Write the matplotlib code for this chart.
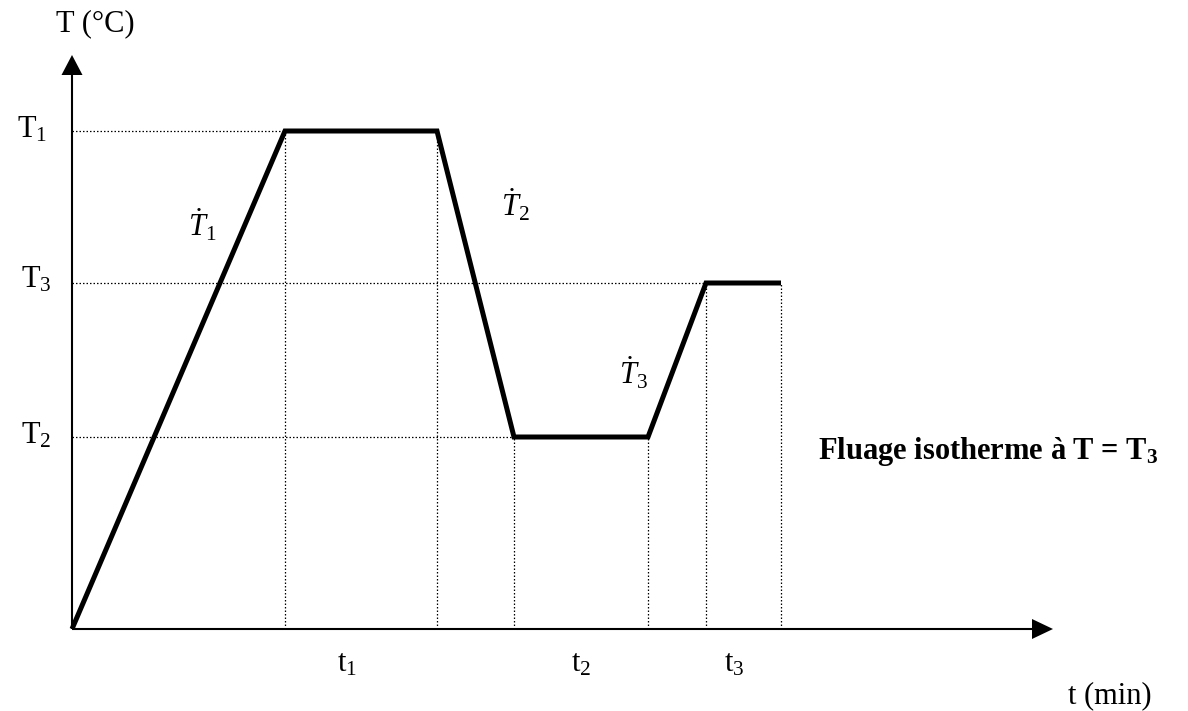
import matplotlib
matplotlib.use("Agg")
import matplotlib.pyplot as plt

plt.rcParams['font.family'] = ['Liberation Serif', 'DejaVu Serif']
plt.rcParams['mathtext.fontset'] = 'custom'
plt.rcParams['mathtext.rm'] = 'Liberation Serif'
plt.rcParams['mathtext.it'] = 'Liberation Serif:italic'
plt.rcParams['mathtext.bf'] = 'Liberation Serif:bold'

# Thermal cycle: heating, hold at T1, cooling, hold at T2, heating, creep at T3
times = [0.0, 21.3, 36.5, 44.2, 57.6, 63.4, 70.9]
temps = [0.0, 498.0, 498.0, 192.0, 192.0, 346.0, 346.0]
level_names = ['T$_1$', 'T$_3$', 'T$_2$']
level_values = [498.0, 346.0, 192.0]
level_ends = [21.3, 63.4, 44.2]
rate_labels = [r'$\dot{T}_1$', r'$\dot{T}_2$', r'$\dot{T}_3$']
rate_pos = [(13.0, 404.0), (44.3, 424.0), (56.1, 256.0)]
duration_labels = ['t$_1$', 't$_2$', 't$_3$']
duration_pos = [27.5, 50.9, 66.2]

fig = plt.figure(figsize=(11.88, 7.11), dpi=100)
ax = fig.add_axes([0, 0, 1, 1])
ax.set_xlim(-7.2, 111.6)
ax.set_ylim(-82, 629)
ax.axis('off')

# axes with arrow heads
x_tip, y_tip = 98.1, 574.0
ax.plot([0, x_tip - 2.0], [0, 0], color='black', lw=1.5, solid_capstyle='butt')
ax.plot([0, 0], [0, y_tip - 19], color='black', lw=1.5, solid_capstyle='butt')
ax.fill([x_tip - 2.1, x_tip, x_tip - 2.1], [10, 0, -10], color='black', lw=0)
ax.fill([-1.05, 0, 1.05], [y_tip - 20, y_tip, y_tip - 20], color='black', lw=0)

# dotted guides
dot = dict(color='black', lw=0.9, linestyle=(0, (1.2, 1.6)))
for v, xe in zip(level_values, level_ends):
    ax.plot([0, xe], [v, v], **dot)
for t, T in zip(times[1:], temps[1:]):
    ax.plot([t, t], [0, T], **dot)

# temperature profile
ax.plot(times, temps, color='black', lw=3.6, solid_joinstyle='miter',
        solid_capstyle='butt', zorder=5)

fs = 22
ax.text(2.3, 605, 'T (°C)', fontsize=fs, ha='center', va='center')
ax.text(-4.0, 499, level_names[0], fontsize=fs, ha='center', va='center')
ax.text(-3.6, 349, level_names[1], fontsize=fs, ha='center', va='center')
ax.text(-3.6, 193, level_names[2], fontsize=fs, ha='center', va='center')
for lab, (x, y) in zip(rate_labels, rate_pos):
    ax.text(x, y, lab, fontsize=fs, ha='center', va='center')
for lab, x in zip(duration_labels, duration_pos):
    ax.text(x, -35, lab, fontsize=fs, ha='center', va='center')
ax.text(103.8, -67, 't (min)', fontsize=fs, ha='center', va='center')
ax.text(91.6, 177, r'Fluage isotherme à T = T$_{\mathbf{3}}$', fontsize=fs,
        fontweight='bold', ha='center', va='center')

fig.savefig('out.png', dpi=100)
